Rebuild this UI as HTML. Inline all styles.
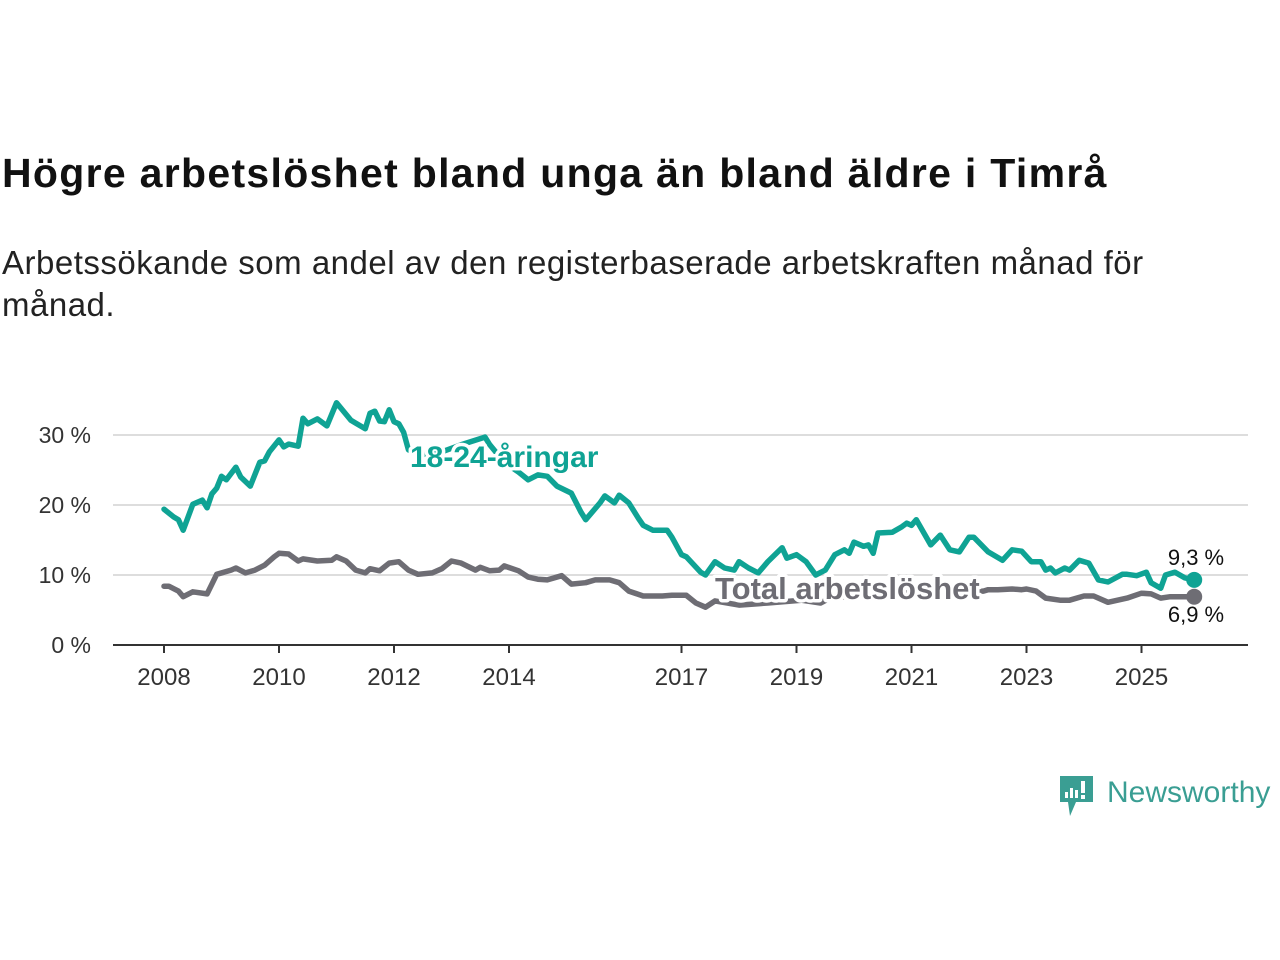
<!DOCTYPE html>
<html><head><meta charset="utf-8"><style>
body{margin:0;width:1280px;height:960px;background:#fff;font-family:"Liberation Sans",sans-serif;position:relative;overflow:hidden}
h1{position:absolute;left:2px;top:150px;margin:0;font-size:41px;letter-spacing:1.3px;font-weight:bold;color:#111;white-space:nowrap}
p.sub{position:absolute;left:2px;top:242px;margin:0;font-size:33px;letter-spacing:0.5px;line-height:42px;color:#222;width:1175px}
svg{position:absolute;left:0;top:0}
</style></head><body>
<h1>Högre arbetslöshet bland unga än bland äldre i Timrå</h1>
<p class="sub">Arbetssökande som andel av den registerbaserade arbetskraften månad för månad.</p>
<svg id="chart" width="1280" height="960"></svg>
<script>
const yTicks=[0,10,20,30];
const yTickLabels=["0 %","10 %","20 %","30 %"];
const xTickYears=[2008,2010,2012,2014,2017,2019,2021,2023,2025];
// months since Jan 2008
const youthMonths=[0,2,3,4,6,8,9,10,11,12,13,15,16,18,20,21,22,24,25,26,28,29,30,32,34,36,39,40,42,43,44,45,46,47,48,49,50,51,53,58,62,67,68,71,74,76,78,80,82,85,87,88,91,92,94,95,97,99,100,102,105,106,108,109,112,113,115,117,119,120,122,124,126,129,130,132,134,136,138,140,142,143,144,146,147,148,149,152,154,155,156,157,160,162,164,166,168,169,172,175,177,179,181,183,184,185,186,188,189,191,193,195,197,200,201,203,205,206,208,209,211,213,215];
const youthValues=[19.4,18.3,17.9,16.4,20.1,20.7,19.6,21.6,22.4,24.1,23.6,25.4,24.0,22.7,26.1,26.3,27.6,29.3,28.3,28.7,28.4,32.4,31.6,32.3,31.3,34.6,32.1,31.7,30.9,33.1,33.4,32.0,31.9,33.6,31.9,31.6,30.4,27.9,27.1,27.6,28.6,29.7,28.6,26.1,24.7,23.6,24.3,24.1,22.7,21.7,19.0,17.9,20.3,21.3,20.3,21.4,20.3,18.1,17.1,16.4,16.4,15.4,12.9,12.6,10.4,10.0,11.9,11.0,10.7,11.9,11.0,10.3,11.9,13.9,12.4,12.9,11.9,10.0,10.7,12.9,13.6,13.1,14.7,14.1,14.3,13.1,16.0,16.1,16.9,17.4,17.1,17.9,14.3,15.7,13.6,13.3,15.4,15.4,13.3,12.1,13.6,13.4,11.9,11.9,10.7,11.0,10.3,11.0,10.7,12.1,11.7,9.3,9.0,10.1,10.1,9.9,10.4,8.9,8.1,10.0,10.4,9.6,9.3];
const totalMonths=[0,1,3,4,6,9,11,14,15,17,19,21,23,24,26,28,29,32,35,36,38,40,42,43,45,47,49,51,53,56,58,60,62,65,66,68,70,71,74,76,78,80,83,85,88,90,93,95,97,100,104,106,109,111,113,115,120,124,126,133,137,139,145,152,158,164,171,172,174,177,179,180,182,184,187,189,192,194,197,201,204,206,208,210,212,215];
const totalValues=[8.4,8.4,7.7,6.9,7.6,7.3,10.1,10.7,11.0,10.3,10.7,11.4,12.6,13.1,13.0,12.0,12.3,12.0,12.1,12.6,12.0,10.7,10.3,10.9,10.6,11.7,11.9,10.7,10.1,10.3,10.9,12.0,11.7,10.7,11.1,10.6,10.7,11.3,10.6,9.7,9.4,9.3,9.9,8.7,8.9,9.3,9.3,8.9,7.7,7.0,7.0,7.1,7.1,6.0,5.4,6.3,5.7,5.9,6.0,6.4,6.0,6.7,7.1,7.3,7.6,7.7,7.7,7.9,7.9,8.0,7.9,8.0,7.7,6.7,6.4,6.4,7.0,7.0,6.1,6.7,7.4,7.3,6.7,6.9,6.9,6.9];

const svg=document.getElementById('chart');
const NS='http://www.w3.org/2000/svg';
const X0=113,X1=1248;
function xm(m){return 164+m*57.5/12;}
function xy(yr){return 164+(yr-2008)*57.5;}
function yv(v){return 645-v*7;}
function mk(t,a,p){const e=document.createElementNS(NS,t);for(const k in a)e.setAttribute(k,a[k]);(p||svg).appendChild(e);return e;}
yTicks.forEach((v,i)=>{
  if(v>0){const g=mk('line',{x1:X0,x2:X1,y1:yv(v),y2:yv(v),stroke:'#ddd','stroke-width':2});
  
  }
  const t=mk('text',{x:91,y:yv(v)+8,'text-anchor':'end','font-size':23,fill:'#333'});
  t.textContent=yTickLabels[i];
  
  
});
const ax=mk('line',{x1:X0,x2:X1,y1:645,y2:645,stroke:'#333','stroke-width':2});


xTickYears.forEach(yr=>{
  const tk=mk('line',{x1:xy(yr),x2:xy(yr),y1:645,y2:653,stroke:'#333','stroke-width':2});
  
  
  const t=mk('text',{x:xy(yr),y:685,'text-anchor':'middle','font-size':24,fill:'#333'});
  t.textContent=yr;
  
  
});
function line(ms,vs,color,name){
  const d=ms.map((m,i)=>(i?'L':'M')+xm(m).toFixed(1)+','+yv(vs[i]).toFixed(1)).join('');
  const p=mk('path',{d:d,fill:'none',stroke:color,'stroke-width':5.5,'stroke-linejoin':'round','stroke-linecap':'round'});
  
  
  const n=ms.length-1;
  const c=mk('circle',{cx:xm(ms[n]),cy:yv(vs[n]),r:8,fill:color});
  
  
}
line(totalMonths,totalValues,'#6e6d74','total-line');
line(youthMonths,youthValues,'#0fa394','youth-line');
function label(txt,x,y,color,name,anchor,size,bold){
  const t=mk('text',{x:x,y:y,'text-anchor':anchor,'font-size':size,'font-weight':bold?'bold':'normal',fill:color,stroke:bold?'#fff':'none','stroke-width':bold?7:0,'paint-order':'stroke','stroke-linejoin':'round'});
  t.textContent=txt;
  
  
}
label('18-24-åringar',410,467,'#0fa394','youth-series-label','start',30,true);
label('Total arbetslöshet',715,599,'#6e6d74','total-series-label','start',31,true);
label('9,3 %',1196,565,'#111','youth-end-value','middle',22,false);
label('6,9 %',1196,622,'#111','total-end-value','middle',22,false);
</script>
<svg width="1280" height="960" style="pointer-events:none">
<path d="M1060,776 h33 v26 h-17 l-6,14 l-2,-14 h-8 z" fill="#3a9e93"/>
<rect x="1065" y="792" width="3" height="6" fill="#fff"/><rect x="1070" y="788" width="3" height="10" fill="#fff"/><rect x="1075" y="790" width="3" height="8" fill="#fff"/><rect x="1081" y="781" width="4" height="12" fill="#fff"/><rect x="1081" y="795" width="4" height="4" fill="#fff"/>
<text x="1107" y="802" font-size="30" fill="#3a9e93" font-family="Liberation Sans, sans-serif">Newsworthy</text>
</svg>
</body></html>
